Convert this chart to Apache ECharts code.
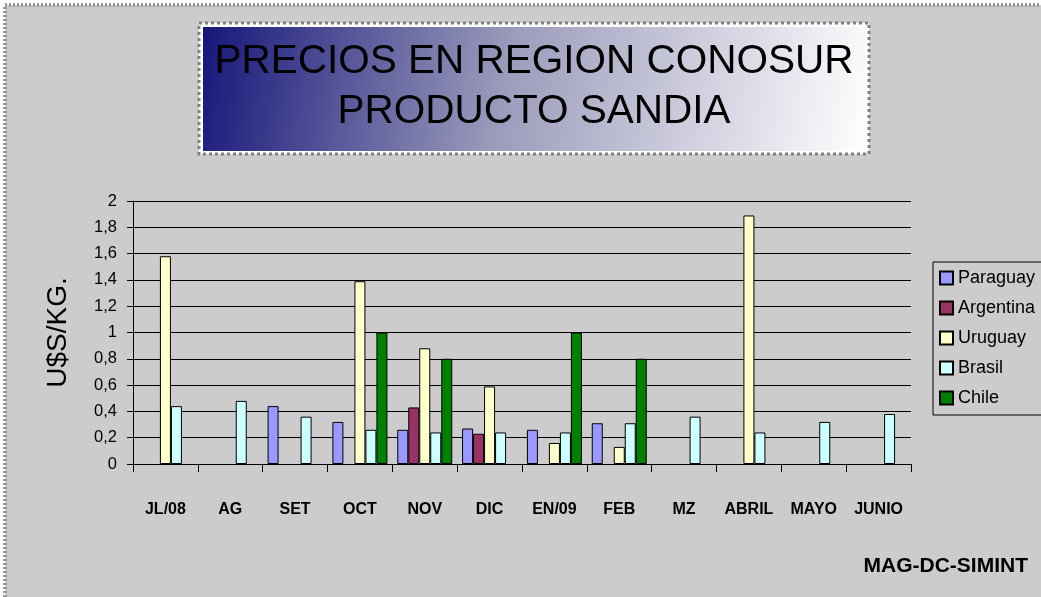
<!DOCTYPE html>
<html>
<head>
<meta charset="utf-8">
<script src="https://cdn.jsdelivr.net/npm/echarts@6/dist/echarts.min.js"></script>
<style>
html,body{margin:0;padding:0;background:#fff;}
#chart{width:1041px;height:597px;}
</style>
</head>
<body>
<div id="chart"></div>
<script>
/*
* precios sandia - region conosur
*/
var meses = ['JL/08', 'AG', 'SET', 'OCT', 'NOV', 'DIC', 'EN/09', 'FEB', 'MZ', 'ABRIL', 'MAYO', 'JUNIO'];
var paraguay  = [null, null, 0.44, 0.32, 0.26, 0.27, 0.26, 0.31, null, null, null, null];
var argentina = [null, null, null, null, 0.43, 0.23, null, null, null, null, null, null];
var uruguay   = [1.58, null, null, 1.39, 0.88, 0.59, 0.16, 0.13, null, 1.89, null, null];
var brasil    = [0.44, 0.48, 0.36, 0.26, 0.24, 0.24, 0.24, 0.31, 0.36, 0.24, 0.32, 0.38];
var chile     = [null, null, null, 1.0, 0.8, null, 1.0, 0.8, null, null, null, null];
var yTicks = ['0', '0,2', '0,4', '0,6', '0,8', '1', '1,2', '1,4', '1,6', '1,8', '2'];

var myChart = echarts.init(document.getElementById('chart'));

//serie de barras
function serie(nombre, datos, color) {
  return {
    name: nombre,
    type: 'bar',
    data: datos,
    barWidth: 11,
    barGap: '0%',
    itemStyle: { color: color, borderColor: '#000', borderWidth: 1 }
  };
}

var fuente = 'Liberation Sans, Arial, sans-serif';

var option = {
  animation: false,
  textStyle: { fontFamily: fuente },
  graphic: [
    // marco exterior punteado
    {
      type: 'rect', z: -10,
      shape: { x: 5, y: 5, width: 1100, height: 700 },
      style: { fill: '#cccccc', stroke: '#9a9a9a', lineWidth: 4, lineDash: [2, 2] }
    },
    // caja del titulo
    {
      type: 'rect', z: 1,
      shape: { x: 199, y: 23, width: 670, height: 131 },
      style: { fill: '#ffffff', stroke: '#808080', lineWidth: 3, lineDash: [3, 3] }
    },
    {
      type: 'rect', z: 2,
      shape: { x: 203, y: 27, width: 663, height: 124 },
      style: {
        fill: new echarts.graphic.LinearGradient(0, 0, 1, 1, [
          { offset: 0, color: '#16167a' },
          { offset: 0.45, color: '#9a9abb' },
          { offset: 1, color: '#ffffff' }
        ])
      }
    },
    {
      type: 'text', z: 3,
      style: {
        x: 534, y: 62, text: 'PRECIOS EN REGION CONOSUR',
        font: '40.5px ' + fuente, fill: '#000', align: 'center', verticalAlign: 'middle'
      }
    },
    {
      type: 'text', z: 3,
      style: {
        x: 534, y: 112, text: 'PRODUCTO SANDIA',
        font: '40.5px ' + fuente, fill: '#000', align: 'center', verticalAlign: 'middle'
      }
    },
    {
      type: 'text', z: 3,
      style: {
        x: 1028, y: 566, text: 'MAG-DC-SIMINT',
        font: 'bold 21px ' + fuente, fill: '#000', align: 'right', verticalAlign: 'middle'
      }
    }
  ],
  color: ['#9999ff', '#993366', '#ffffcc', '#ccffff', '#008000'],
  legend: {
    orient: 'vertical',
    left: 933,
    top: 262,
    padding: [7, 40, 8, 6],
    itemGap: 12,
    itemWidth: 13,
    itemHeight: 13,
    icon: 'rect',
    borderColor: '#000',
    borderWidth: 1,
    textStyle: { fontSize: 18, color: '#000', fontFamily: fuente },
    data: ['Paraguay', 'Argentina', 'Uruguay', 'Brasil', 'Chile']
  },
  grid: { left: 133, top: 201, right: 130, bottom: 133, containLabel: false },
  xAxis: {
    type: 'category',
    data: meses,
    axisLine: { lineStyle: { color: '#000', width: 1 } },
    axisTick: { show: true, length: 8, lineStyle: { color: '#000' } },
    axisLabel: { margin: 38, fontSize: 16, fontWeight: 'bold', color: '#000', fontFamily: fuente }
  },
  yAxis: {
    type: 'value',
    min: 0,
    max: 2,
    interval: 0.2,
    name: 'U$S/KG.',
    nameLocation: 'middle',
    nameGap: 61,
    nameTextStyle: { fontSize: 28, color: '#000', fontFamily: fuente },
    axisLine: { show: true, lineStyle: { color: '#000', width: 1 } },
    axisTick: { show: true, length: 6, lineStyle: { color: '#000' } },
    axisLabel: {
      margin: 16, fontSize: 16.5, color: '#000', fontFamily: fuente,
      formatter: function (v) { return yTicks[Math.round(v / 0.2)]; }
    },
    splitLine: { show: true, lineStyle: { color: '#000', width: 1 } }
  },
  series: [
    serie('Paraguay', paraguay, '#9999ff'),
    serie('Argentina', argentina, '#993366'),
    serie('Uruguay', uruguay, '#ffffcc'),
    serie('Brasil', brasil, '#ccffff'),
    serie('Chile', chile, '#008000')
  ]
};
myChart.setOption(option);
</script>
</body>
</html>
